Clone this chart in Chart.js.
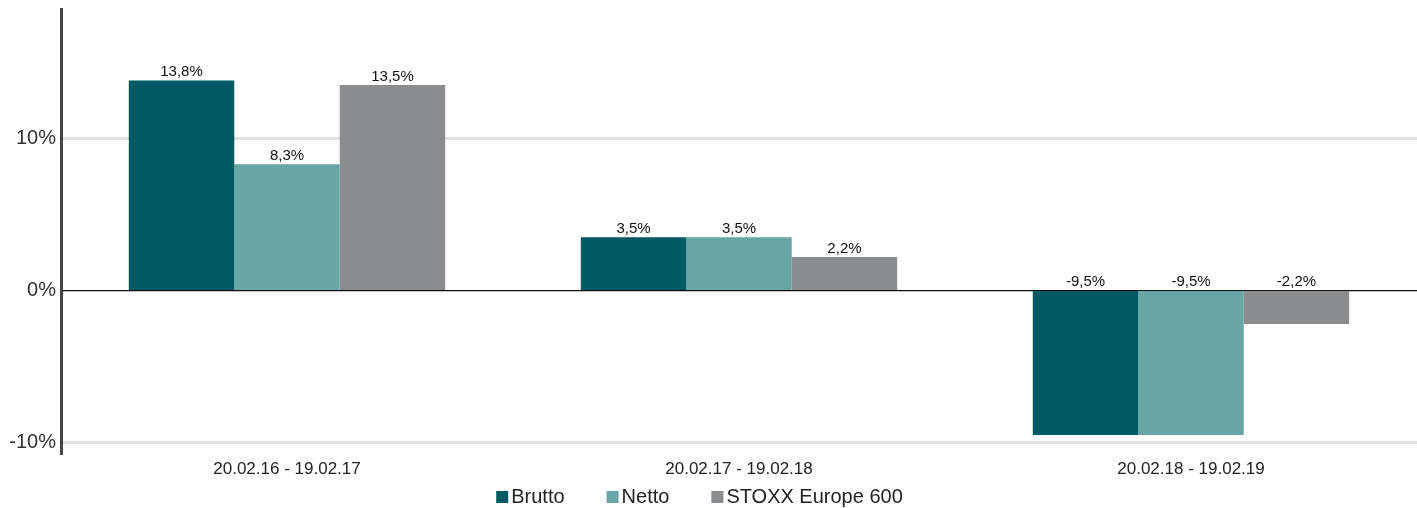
<!DOCTYPE html>
<html>
<head>
<meta charset="utf-8">
<script src="https://cdn.jsdelivr.net/npm/chart.js@4/dist/chart.umd.min.js"></script>
<style>
  html, body { margin: 0; padding: 0; background: #fff; }
  #wrap { width: 1417px; height: 508px; position: relative; }
</style>
</head>
<body>
<div id="wrap"><canvas id="perfChart"></canvas></div>
<script>
const periods = ['20.02.16 - 19.02.17', '20.02.17 - 19.02.18', '20.02.18 - 19.02.19'];
const brutto = [13.8, 3.5, -9.5];
const netto = [8.3, 3.5, -9.5];
const stoxx = [13.5, 2.2, -2.2];
const yTicks = [-10, 0, 10];

const FONT = '"Liberation Sans", Arial, sans-serif';
const fmt = v => v.toFixed(1).replace('.', ',') + '%';

// value labels: above the bar top, or above the zero line for negative bars
const valueLabels = {
    id: 'valueLabels',
    afterDatasetsDraw(chart){
        const c = chart.ctx;
        const zeroY = chart.scales.y.getPixelForValue(0);
        c.save();
        c.font = '15px ' + FONT;
        c.fillStyle = '#111';
        c.textAlign = 'center';
        c.textBaseline = 'bottom';
        chart.data.datasets.forEach((ds, i) => {
            chart.getDatasetMeta(i).data.forEach((bar, j) => {
                const y = Math.min(bar.y, zeroY) - 1;
                c.fillText(fmt(ds.data[j]), bar.x, y);
            });
        });
        c.restore();
    }
};

// compact legend under the axis: small square, tight gap, then the name
const bottomLegend = {
    id: 'bottomLegend',
    afterDraw(chart){
        const c = chart.ctx;
        const box = 12, gap = 3, spacing = 42;
        c.save();
        c.font = '20px ' + FONT;
        c.textBaseline = 'middle';
        const items = chart.data.datasets.map(ds => ({ text: ds.label, color: ds.backgroundColor, w: c.measureText(ds.label).width }));
        const total = items.reduce((s, it) => s + box + gap + it.w, 0) + spacing * (items.length - 1);
        let x = chart.width / 2 - 9 - total / 2;
        const y = 497;
        items.forEach(it => {
            c.fillStyle = it.color;
            c.fillRect(x, y - box / 2, box, box);
            c.fillStyle = '#222';
            c.fillText(it.text, x + box + gap, y);
            x += box + gap + it.w + spacing;
        });
        c.restore();
    }
};

new Chart(document.getElementById('perfChart').getContext('2d'), {
    type: 'bar',
    data: {
        labels: periods,
        datasets: [
            { label: 'Brutto', data: brutto, backgroundColor: '#005a63' },
            { label: 'Netto', data: netto, backgroundColor: '#67a6a5' },
            { label: 'STOXX Europe 600', data: stoxx, backgroundColor: '#8b8c8e' }
        ]
    },
    options: {
        responsive: true,
        maintainAspectRatio: false,
        animation: false,
        layout: { padding: { top: 9, right: 0, left: 0, bottom: 22 } },
        datasets: { bar: { categoryPercentage: 0.7, barPercentage: 1.0 } },
        plugins: {
            legend: { display: false },
            tooltip: { enabled: false }
        },
        scales: {
            x: {
                grid: { display: false, drawTicks: false },
                border: { display: false },
                ticks: { color: '#222', font: { size: 17, family: FONT }, padding: 6 }
            },
            y: {
                min: -10.72,
                max: 18.5,
                afterBuildTicks: axis => { axis.ticks = yTicks.map(v => ({ value: v })); },
                afterFit: axis => { axis.width = 61; axis.paddingTop = 0; axis.paddingBottom = 0; },
                border: { color: '#444', width: 3 },
                grid: {
                    drawTicks: false,
                    color: ctx => ctx.tick && ctx.tick.value === 0 ? '#111' : '#e2e2e2',
                    lineWidth: ctx => ctx.tick && ctx.tick.value === 0 ? 1.2 : 3
                },
                ticks: {
                    color: '#333',
                    padding: 5,
                    font: { size: 20, family: FONT },
                    callback: v => v + '%'
                }
            }
        }
    },
    plugins: [valueLabels, bottomLegend]
});
</script>
</body>
</html>
